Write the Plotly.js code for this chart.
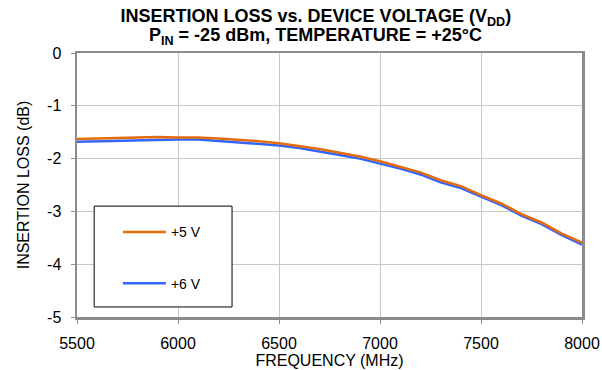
<!DOCTYPE html>
<html>
<head>
<meta charset="utf-8">
<script src="https://cdn.plot.ly/plotly-3.0.1.min.js"></script>
<style>html,body{margin:0;padding:0;background:#fff;}#chart{width:602px;height:370px;}</style>
</head>
<body>
<div id="chart"></div>
<script>
// Frequency (MHz)
const freq = [5500,5600,5700,5800,5900,6000,6100,6200,6300,6400,6500,6600,6700,6800,6900,7000,7100,7200,7300,7400,7500,7600,7700,7800,7900,8000];
// Insertion loss (dB), +5 V
const loss5V = [-1.63,-1.62,-1.61,-1.60,-1.59,-1.60,-1.60,-1.62,-1.64,-1.67,-1.71,-1.76,-1.82,-1.89,-1.96,-2.05,-2.15,-2.26,-2.41,-2.52,-2.69,-2.85,-3.05,-3.21,-3.42,-3.59];
// Insertion loss (dB), +6 V
const loss6V = [-1.68,-1.67,-1.66,-1.65,-1.64,-1.64,-1.64,-1.67,-1.69,-1.72,-1.75,-1.80,-1.86,-1.93,-2.00,-2.09,-2.19,-2.30,-2.45,-2.56,-2.72,-2.88,-3.08,-3.24,-3.45,-3.63];
const seriesNames = ['+5 V', '+6 V'];
const xTicks = [5500,6000,6500,7000,7500,8000];
const yTicks = [0,-1,-2,-3,-4,-5];
const titleLine1 = '<b>INSERTION LOSS vs. DEVICE VOLTAGE (V<sub>DD</sub>)</b>';
const titleLine2 = '<b>P<sub>IN</sub> = -25 dBm, TEMPERATURE = +25°C</b>';

const FONT = 'Liberation Sans, Arial, sans-serif';
const traces = [
  {x: freq, y: loss6V, name: seriesNames[1], mode: 'lines', legendgroup: 'b', legendrank: 2,
   line: {color: '#3366FF', width: 2.5}},
  {x: freq, y: loss5V, name: seriesNames[0], mode: 'lines', legendgroup: 'a', legendrank: 1,
   line: {color: '#E46C0A', width: 2.5}}
];
const axisCommon = {
  showline: true, mirror: true, linecolor: '#8C8C8C', linewidth: 2.5,
  showgrid: true, gridcolor: '#C8C8C8', gridwidth: 1,
  ticks: 'outside', ticklen: 4, tickcolor: '#8C8C8C', tickwidth: 1,
  zeroline: false, tickfont: {family: FONT, size: 16, color: '#000'}
};
const layout = {
  width: 602, height: 370,
  margin: {l: 77, r: 20, t: 53, b: 53},
  paper_bgcolor: '#fff', plot_bgcolor: '#fff',
  font: {family: FONT, color: '#000'},
  title: {
    text: titleLine1,
    font: {family: FONT, size: 18, color: '#000'},
    xref: 'paper', x: 0.473, xanchor: 'center',
    yref: 'container', y: 0.958, yanchor: 'middle'
  },
  annotations: [{
    text: titleLine2, showarrow: false,
    xref: 'paper', x: 0.473, xanchor: 'center',
    yref: 'paper', y: 1.062, yanchor: 'middle',
    font: {family: FONT, size: 18, color: '#000'}
  }],
  xaxis: Object.assign({}, axisCommon, {
    range: [5500, 8000], tickvals: xTicks, ticktext: xTicks.map(String),
    ticklabelstandoff: 6,
    title: {text: 'FREQUENCY (MHz)', font: {family: FONT, size: 16, color: '#000'}, standoff: 2}
  }),
  yaxis: Object.assign({}, axisCommon, {
    range: [-5, 0], tickvals: yTicks, ticktext: yTicks.map(String),
    ticklabelstandoff: 6,
    title: {text: 'INSERTION LOSS (dB)', font: {family: FONT, size: 16, color: '#000'}, standoff: 14}
  }),
  showlegend: true,
  legend: {
    x: 0.081, xanchor: 'left', y: 0.381, yanchor: 'top',
    bgcolor: 'rgba(0,0,0,0)', borderwidth: 0,
    font: {family: FONT, size: 14, color: '#000'},
    tracegroupgap: 30, itemwidth: 43, traceorder: 'grouped'
  },
  shapes: [{
    type: 'rect', xref: 'paper', yref: 'paper', layer: 'above',
    x0: 0.034, x1: 0.307, y0: 0.038, y1: 0.42,
    fillcolor: '#fff', line: {color: '#000', width: 1}
  }]
};
Plotly.newPlot('chart', traces, layout, {displayModeBar: false, staticPlot: true});
</script>
</body>
</html>
